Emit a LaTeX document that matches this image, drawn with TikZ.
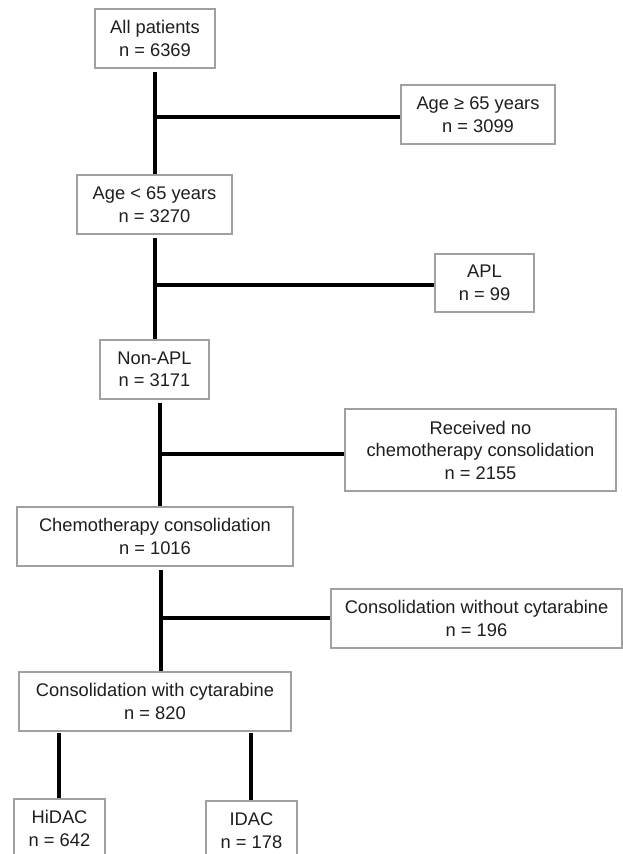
\documentclass[tikz,border=0pt]{standalone}
\usepackage{fontspec}
\setmainfont{Liberation Sans}
\definecolor{boxgray}{HTML}{A0A0A0}
\definecolor{txt}{HTML}{1E1E1E}
\begin{document}
\begin{tikzpicture}[x=1pt,y=-1pt,
  box/.style={draw=boxgray,line width=1.8pt,inner sep=0pt,align=center,
    text=txt,font=\fontsize{18.3}{22.5}\selectfont},
  link/.style={line width=4.6pt,black}]
\useasboundingbox (0,0) rectangle (623,854);
\clip (0,0) rectangle (623,854);
\fill[white] (0,0) rectangle (623,854);
\node[box,minimum width=120pt,minimum height=59pt] (all) at (155,38.5) {All patients\\n = 6369};
\node[box,minimum width=154pt,minimum height=59pt] (old) at (478,114.5) {Age ≥ 65 years\\n = 3099};
\node[box,minimum width=155pt,minimum height=59pt] (young) at (154.5,204.5) {Age < 65 years\\n = 3270};
\node[box,minimum width=99pt,minimum height=58pt] (apl) at (484.5,283) {APL\\n = 99};
\node[box,minimum width=109pt,minimum height=59pt] (nonapl) at (154.5,369.5) {Non-APL\\n = 3171};
\node[box,minimum width=271pt,minimum height=82pt] (noch) at (480.5,450) {Received no\\chemotherapy consolidation\\n = 2155};
\node[box,minimum width=276pt,minimum height=59pt] (chemo) at (155,536.5) {Chemotherapy consolidation\\n = 1016};
\node[box,minimum width=291pt,minimum height=59pt] (without) at (476.5,618.5) {Consolidation without cytarabine\\n = 196};
\node[box,minimum width=272pt,minimum height=59pt] (with) at (155,701.5) {Consolidation with cytarabine\\n = 820};
\node[box,minimum width=91pt,minimum height=59pt] (hidac) at (59.5,828.5) {HiDAC\\n = 642};
\node[box,minimum width=91pt,minimum height=59pt] (idac) at (251.5,830.5) {IDAC\\n = 178};
% trunks
\coordinate (t1) at (155,72);
\draw[link] (t1) -- (t1 |- young.north);
\coordinate (j1) at (155,117);
\draw[link] (j1) -- (j1 -| old.west);
\coordinate (t2) at (155,238);
\draw[link] (t2) -- (t2 |- nonapl.north);
\coordinate (j2) at (155,285);
\draw[link] (j2) -- (j2 -| apl.west);
\coordinate (t3) at (160,403);
\draw[link] (t3) -- (t3 |- chemo.north);
\coordinate (j3) at (160,454);
\draw[link] (j3) -- (j3 -| noch.west);
\coordinate (t4) at (161,570);
\draw[link] (t4) -- (t4 |- with.north);
\coordinate (j4) at (161,618);
\draw[link] (j4) -- (j4 -| without.west);
\coordinate (d1) at (59,733);
\draw[link] (d1) -- (d1 |- hidac.north);
\coordinate (d2) at (251,733);
\draw[link] (d2) -- (d2 |- idac.north);
\end{tikzpicture}
\end{document}
